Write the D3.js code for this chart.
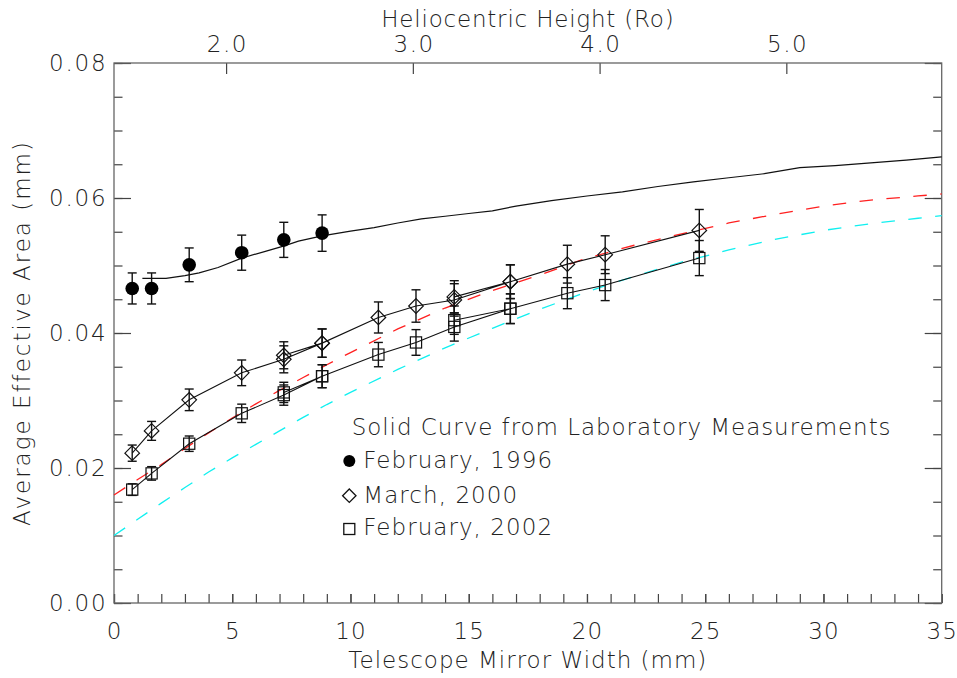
<!DOCTYPE html>
<meta charset="utf-8">
<script src="https://d3js.org/d3.v7.min.js"></script>
<style>
  body { margin: 0; background: #fff; }
  text { font-family: "DejaVu Sans", sans-serif; font-weight: 200; fill: #222; }
</style>
<div id="chart"></div>
<script>

    // February 1996 (filled circles)
    var feb1996X   = [0.77, 1.59, 3.18, 5.40, 7.18, 8.80];
    var feb1996Y   = [0.0466, 0.0466, 0.0501, 0.0519, 0.0538, 0.0548];
    var feb1996Err = [0.0023, 0.0023, 0.0025, 0.0026, 0.0026, 0.0027];

    // March 2000 (diamonds), in drawing order (repeated positions go back and forth)
    var mar2000X   = [0.77, 1.59, 3.18, 5.40, 7.18, 8.80, 7.18, 8.80, 11.18, 12.77, 14.39, 16.76, 14.39, 16.76, 19.17, 20.77, 24.75];
    var mar2000Y   = [0.0222, 0.0255, 0.0301, 0.0341, 0.0361, 0.0385, 0.0367, 0.0385, 0.0423, 0.0440, 0.0449, 0.0476, 0.04535, 0.0476, 0.0502, 0.0516, 0.0552];
    var mar2000Err = [0.0012, 0.0014, 0.0016, 0.0019, 0.0020, 0.0021, 0.0020, 0.0021, 0.0023, 0.0024, 0.0024, 0.0025, 0.0024, 0.0025, 0.0028, 0.0028, 0.0031];

    // February 2002 (squares)
    var feb2002X   = [0.77, 1.59, 3.18, 5.40, 7.18, 8.80, 7.18, 8.80, 11.18, 12.77, 14.39, 16.76, 14.39, 16.76, 19.17, 20.77, 24.75];
    var feb2002Y   = [0.0168, 0.0192, 0.0236, 0.0281, 0.0308, 0.0336, 0.0312, 0.0336, 0.0368, 0.0386, 0.0409, 0.0436, 0.0419, 0.0436, 0.0459, 0.0471, 0.0511];
    var feb2002Err = [0.00086, 0.0010, 0.00114, 0.00136, 0.0015, 0.0017, 0.0015, 0.0017, 0.0018, 0.0019, 0.0021, 0.0022, 0.0021, 0.0022, 0.0023, 0.0023, 0.0026];

    // laboratory curve for 1996
    var labX = [1.2, 2.2, 3.0, 3.6, 4.4, 5.4, 6.4, 7.2, 7.8, 8.8, 10.0, 11.0, 12.0, 13.0, 14.0, 15.0, 16.0, 17.0, 18.5, 20.0, 21.5, 23.0, 24.5, 26.0, 27.5, 29.0, 30.5, 32.0, 33.5, 35.0];
    var labY = [0.0481, 0.0481, 0.0485, 0.0489, 0.0497, 0.0511, 0.0521, 0.0529, 0.0536, 0.0544, 0.0551, 0.0556, 0.0563, 0.0569, 0.0573, 0.0577, 0.0581, 0.0588, 0.0596, 0.0603, 0.0609, 0.0617, 0.0624, 0.0630, 0.0636, 0.0645, 0.0648, 0.0652, 0.0656, 0.0661];

    // dashed curves
    var fitX    = [0, 1, 2, 3, 4, 5, 6, 7, 8, 9, 10, 12, 14, 16, 18, 20, 22, 24, 26, 28, 30, 32, 34, 35];
    var redY    = [0.0160, 0.0183, 0.0205, 0.0229, 0.0252, 0.0274, 0.0295, 0.0315, 0.0334, 0.0353, 0.0371, 0.0406, 0.0437, 0.0463, 0.0486, 0.0511, 0.0530, 0.0547, 0.0563, 0.0576, 0.0588, 0.0597, 0.0603, 0.0606];
    var cyanY   = [0.0100, 0.0124, 0.0148, 0.0171, 0.0194, 0.0215, 0.0235, 0.0255, 0.0275, 0.0294, 0.0312, 0.0346, 0.0378, 0.0407, 0.0435, 0.0461, 0.0484, 0.0505, 0.0523, 0.0539, 0.0552, 0.0562, 0.0570, 0.0574];

    // tick labels
    var xTicks = [0, 5, 10, 15, 20, 25, 30, 35];
    var yTicks = [0.00, 0.02, 0.04, 0.06, 0.08];
    var helioTicks = [2.0, 3.0, 4.0, 5.0];
    var helioAtMM  = [4.74, 12.65, 20.55, 28.43];

    var margin = {top: 63, right: 15.3, bottom: 75, left: 114},
        width = 957 - margin.left - margin.right,
        height = 678 - margin.top - margin.bottom;

    var svg = d3.select("#chart")
        .append("svg")
            .attr("width", width + margin.left + margin.right)
            .attr("height", height + margin.top + margin.bottom)
        .append("g")
            .attr("transform", "translate(" + margin.left + "," + margin.top + ")");

    var x = d3.scaleLinear().domain([0, 35]).range([0, width]);
    var y = d3.scaleLinear().domain([0, 0.08]).range([height, 0]);
    var xTop = d3.scaleLinear()
        .domain([helioTicks[0], helioTicks[helioTicks.length - 1]])
        .range([x(helioAtMM[0]), x(helioAtMM[helioAtMM.length - 1])]);

    var fontSize = 23;
    var axisColor = "#444";

    function styleAxis(g, spacing) {
        g.select(".domain").remove();
        g.selectAll(".tick line").attr("stroke", axisColor).attr("stroke-width", 1.2);
        g.selectAll("text")
            .style("font-size", fontSize + "px")
            .style("letter-spacing", (spacing || 1.6) + "px")
            .attr("fill", "#222");
    }

    // bottom axis
    svg.append("g").attr("transform", "translate(0," + height + ")")
        .call(d3.axisBottom(x).tickValues(d3.range(0, 36)).tickSize(-9).tickFormat(""))
        .call(styleAxis);
    svg.append("g").attr("transform", "translate(0," + height + ")")
        .call(d3.axisBottom(x).tickValues(xTicks).tickSize(-9).tickPadding(20).tickFormat(d3.format("d")))
        .call(styleAxis, 1);

    // left and right axes
    var yMinor = d3.range(17).map(function(i) { return i * 0.005; });
    svg.append("g")
        .call(d3.axisLeft(y).tickValues(yMinor).tickSize(-8.5).tickFormat(""))
        .call(styleAxis);
    svg.append("g")
        .call(d3.axisLeft(y).tickValues(yTicks).tickSize(-17).tickPadding(6.5).tickFormat(d3.format(".2f")))
        .call(styleAxis, 1.8);
    svg.append("g").attr("transform", "translate(" + width + ",0)")
        .call(d3.axisRight(y).tickValues(yMinor).tickSize(-8.5).tickFormat(""))
        .call(styleAxis);
    svg.append("g").attr("transform", "translate(" + width + ",0)")
        .call(d3.axisRight(y).tickValues(yTicks).tickSize(-17).tickFormat(""))
        .call(styleAxis);

    // top axis (heliocentric height)
    svg.append("g")
        .call(d3.axisTop(xTop).tickValues(helioTicks).tickSize(-11).tickPadding(11).tickFormat(d3.format(".1f")))
        .call(styleAxis, 1.6)
        .selectAll("text").attr("dx", "0.8px");

    // frame
    svg.append("rect")
        .attr("width", width).attr("height", height)
        .attr("fill", "none").attr("stroke", "#666").attr("stroke-width", 1.3);

    // axis titles
    svg.append("text")
        .attr("x", width / 2).attr("y", 605)
        .attr("text-anchor", "middle")
        .style("font-size", fontSize + "px").style("letter-spacing", "1px")
        .text("Telescope Mirror Width (mm)");
    svg.append("text")
        .attr("x", width / 2).attr("y", -36)
        .attr("text-anchor", "middle")
        .style("font-size", fontSize + "px").style("letter-spacing", "0.8px")
        .text("Heliocentric Height (Ro)");
    svg.append("text")
        .attr("transform", "rotate(-90)")
        .attr("x", -height / 2).attr("y", -84)
        .attr("text-anchor", "middle")
        .style("font-size", fontSize + "px").style("letter-spacing", "2px")
        .text("Average Effective Area (mm)");

    function zip(xs, ys, es) {
        return xs.map(function(d, i) { return {x: d, y: ys[i], e: es ? es[i] : 0}; });
    }

    var line = d3.line()
        .x(function(d) { return x(d.x); })
        .y(function(d) { return y(d.y); });

    // dashed curves
    svg.append("path").datum(zip(fitX, redY))
        .attr("d", line).attr("fill", "none")
        .attr("stroke", "#ff2020").attr("stroke-width", 1.3).attr("stroke-dasharray", "13.5,13.5");
    svg.append("path").datum(zip(fitX, cyanY))
        .attr("d", line).attr("fill", "none")
        .attr("stroke", "#10f0f0").attr("stroke-width", 1.3).attr("stroke-dasharray", "13.5,13.5");

    // lab curve
    svg.append("path").datum(zip(labX, labY))
        .attr("d", line).attr("fill", "none")
        .attr("stroke", "#111").attr("stroke-width", 1.2);

    var d2000 = zip(mar2000X, mar2000Y, mar2000Err);
    var d2002 = zip(feb2002X, feb2002Y, feb2002Err);
    var d1996 = zip(feb1996X, feb1996Y, feb1996Err);

    [d2000, d2002].forEach(function(data) {
        svg.append("path").datum(data)
            .attr("d", line).attr("fill", "none")
            .attr("stroke", "#111").attr("stroke-width", 1.1);
    });

    // error bars
    function errorBars(data) {
        var g = svg.append("g").attr("stroke", "#111").attr("stroke-width", 1.4);
        g.selectAll(".bar").data(data).enter().append("line")
            .attr("x1", function(d) { return x(d.x); })
            .attr("x2", function(d) { return x(d.x); })
            .attr("y1", function(d) { return y(d.y - d.e); })
            .attr("y2", function(d) { return y(d.y + d.e); });
        [-1, 1].forEach(function(s) {
            g.selectAll(".cap" + s).data(data).enter().append("line")
                .attr("x1", function(d) { return x(d.x) - 4.5; })
                .attr("x2", function(d) { return x(d.x) + 4.5; })
                .attr("y1", function(d) { return y(d.y + s * d.e); })
                .attr("y2", function(d) { return y(d.y + s * d.e); });
        });
    }
    errorBars(d1996);
    errorBars(d2000);
    errorBars(d2002);

    // markers
    function diamondPath(r) {
        return "M0," + (-r) + "L" + r + ",0L0," + r + "L" + (-r) + ",0Z";
    }

    svg.selectAll(".circ").data(d1996).enter().append("circle")
        .attr("cx", function(d) { return x(d.x); })
        .attr("cy", function(d) { return y(d.y); })
        .attr("r", 6.8).attr("fill", "#000");

    svg.selectAll(".diam").data(d2000).enter().append("path")
        .attr("d", diamondPath(7.3))
        .attr("transform", function(d) { return "translate(" + x(d.x) + "," + y(d.y) + ")"; })
        .attr("fill", "none").attr("stroke", "#111").attr("stroke-width", 1.2);

    svg.selectAll(".sq").data(d2002).enter().append("rect")
        .attr("x", function(d) { return x(d.x) - 5.6; })
        .attr("y", function(d) { return y(d.y) - 5.6; })
        .attr("width", 11.2).attr("height", 11.2)
        .attr("fill", "none").attr("stroke", "#111").attr("stroke-width", 1.2);

    // legend
    var lg = svg.append("g").attr("transform", "translate(" + (349.3 - margin.left) + ",0)");
    lg.append("text").attr("x", 2.4).attr("y", 435 - margin.top)
        .style("font-size", fontSize + "px").style("letter-spacing", "0.95px")
        .text("Solid Curve from Laboratory Measurements");
    lg.append("circle").attr("cx", 0).attr("cy", 461 - margin.top).attr("r", 6).attr("fill", "#000");
    lg.append("text").attr("x", 14).attr("y", 468 - margin.top)
        .style("font-size", fontSize + "px").style("letter-spacing", "1.05px")
        .text("February, 1996");
    lg.append("path").attr("d", diamondPath(6.7))
        .attr("transform", "translate(0," + (495.7 - margin.top) + ")")
        .attr("fill", "none").attr("stroke", "#111").attr("stroke-width", 1.3);
    lg.append("text").attr("x", 14).attr("y", 502.7 - margin.top)
        .style("font-size", fontSize + "px").style("letter-spacing", "1.05px")
        .text("March, 2000");
    lg.append("rect").attr("x", -5.5).attr("y", 529 - margin.top - 5.5)
        .attr("width", 11).attr("height", 11)
        .attr("fill", "none").attr("stroke", "#111").attr("stroke-width", 1.3);
    lg.append("text").attr("x", 14).attr("y", 535 - margin.top)
        .style("font-size", fontSize + "px").style("letter-spacing", "1.05px")
        .text("February, 2002");

</script>
